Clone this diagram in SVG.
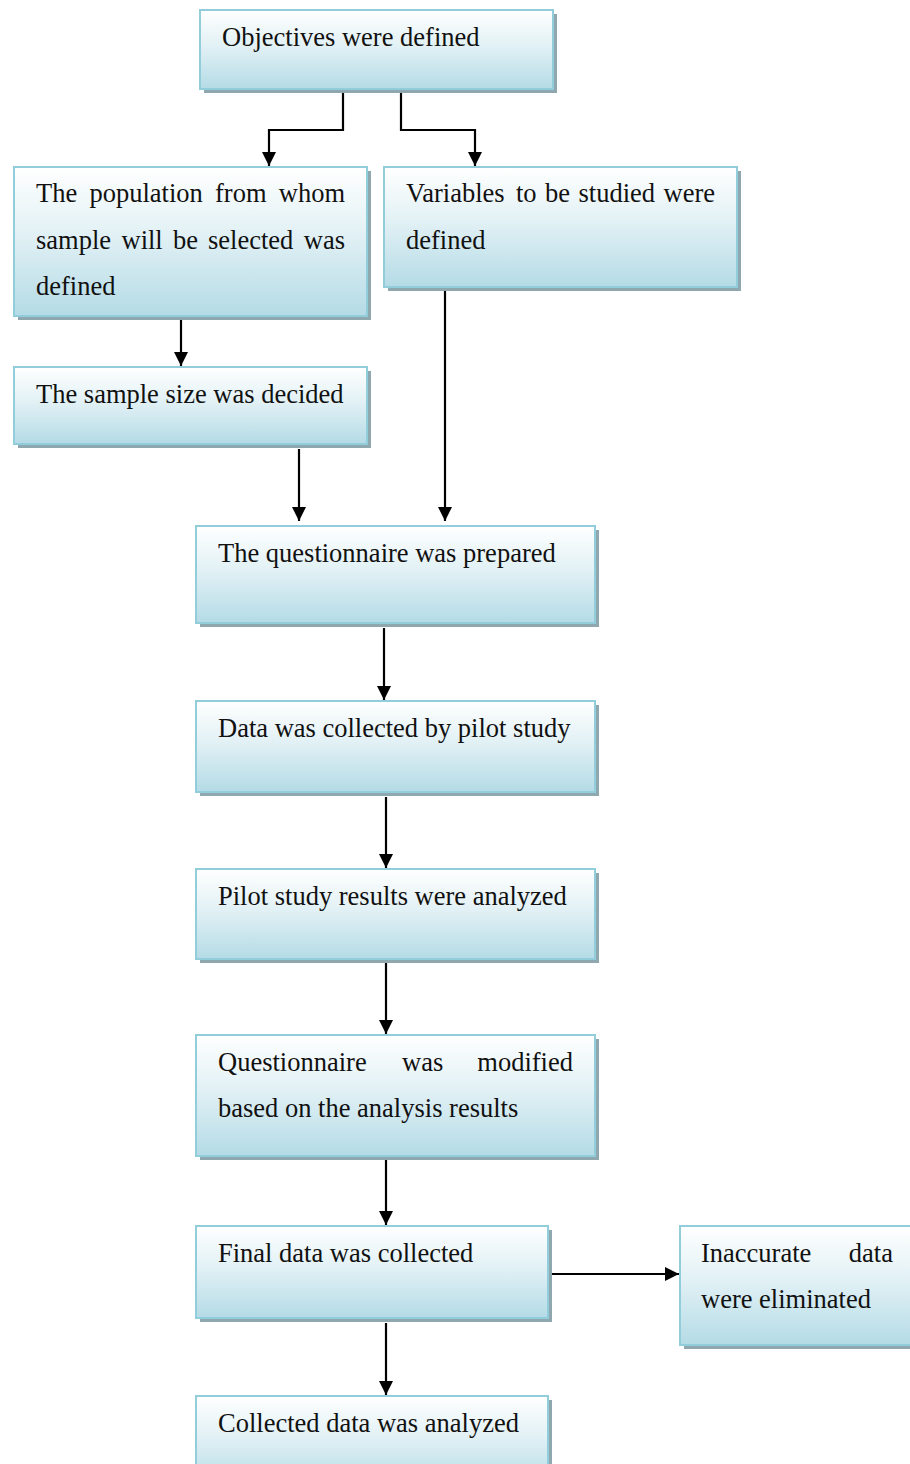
<svg xmlns="http://www.w3.org/2000/svg" width="910" height="1464" viewBox="0 0 910 1464">
<defs>
<linearGradient id="g" x1="0" y1="0" x2="0" y2="1">
<stop offset="0" stop-color="#ffffff"/>
<stop offset="0.45" stop-color="#e2f1f5"/>
<stop offset="1" stop-color="#b4dbe6"/>
</linearGradient>
<marker id="ah" markerUnits="userSpaceOnUse" markerWidth="16" markerHeight="14" refX="14" refY="7" orient="auto">
<path d="M0,0 L14,7 L0,14 Z" fill="#000"/>
</marker>
<style>
.sh{fill:#8fa8b0}
.bx{fill:url(#g);stroke:#92cddc;stroke-width:2}
text{font-family:"Liberation Serif","Times New Roman",serif;font-size:26.5px;fill:#111}
.e{text-anchor:end}
.c path{fill:none;stroke:#000;stroke-width:2.2;marker-end:url(#ah)}
</style>
</defs>
<rect width="910" height="1464" fill="#fff"/>
<g class="c" id="connectors">
<path d="M343,93 V130 H269 V166"/>
<path d="M401,93 V130 H475 V166"/>
<path d="M181,320 V366"/>
<path d="M299,449 V521"/>
<path d="M445,291 V521"/>
<path d="M384,628 V700"/>
<path d="M386,797 V868"/>
<path d="M386,963 V1034"/>
<path d="M386,1159 V1225"/>
<path d="M386,1323 V1395"/>
<path d="M550,1274 H679"/>
</g>
<g id="n1"><rect class="sh" x="204" y="14" width="353" height="79"/><rect class="bx" x="200" y="10" width="353" height="79"/><text x="222" y="46">Objectives were defined</text></g>
<g id="n2"><rect class="sh" x="18" y="171" width="353" height="149"/><rect class="bx" x="14" y="167" width="353" height="149"/>
<text x="36" y="202">The</text><text x="89.5" y="202">population</text><text x="215" y="202">from</text><text class="e" x="345" y="202">whom</text>
<text x="36" y="249">sample</text><text x="121.5" y="249">will</text><text x="173" y="249">be</text><text x="208" y="249">selected</text><text class="e" x="345" y="249">was</text>
<text x="36" y="295">defined</text></g>
<g id="n3"><rect class="sh" x="388" y="171" width="353" height="120"/><rect class="bx" x="384" y="167" width="353" height="120"/>
<text x="406" y="202">Variables</text><text x="516" y="202">to</text><text x="545" y="202">be</text><text x="578.5" y="202">studied</text><text class="e" x="715" y="202">were</text>
<text x="406" y="249">defined</text></g>
<g id="n4"><rect class="sh" x="18" y="371" width="353" height="77"/><rect class="bx" x="14" y="367" width="353" height="77"/><text x="36" y="403">The sample size was decided</text></g>
<g id="n5"><rect class="sh" x="200" y="530" width="399" height="97"/><rect class="bx" x="196" y="526" width="399" height="97"/><text x="218" y="562">The questionnaire was prepared</text></g>
<g id="n6"><rect class="sh" x="200" y="705" width="399" height="91"/><rect class="bx" x="196" y="701" width="399" height="91"/><text x="218" y="737">Data was collected by pilot study</text></g>
<g id="n7"><rect class="sh" x="200" y="873" width="399" height="90"/><rect class="bx" x="196" y="869" width="399" height="90"/><text x="218" y="905">Pilot study results were analyzed</text></g>
<g id="n8"><rect class="sh" x="200" y="1039" width="399" height="121"/><rect class="bx" x="196" y="1035" width="399" height="121"/>
<text x="218" y="1071">Questionnaire</text><text x="402" y="1071">was</text><text class="e" x="573" y="1071">modified</text>
<text x="218" y="1117">based on the analysis results</text></g>
<g id="n9"><rect class="sh" x="200" y="1230" width="352" height="92"/><rect class="bx" x="196" y="1226" width="352" height="92"/><text x="218" y="1262">Final data was collected</text></g>
<g id="n10"><rect class="sh" x="684" y="1230" width="240" height="119"/><rect class="bx" x="680" y="1226" width="240" height="119"/>
<text x="701" y="1262">Inaccurate</text><text class="e" x="893" y="1262">data</text>
<text x="701" y="1308">were eliminated</text></g>
<g id="n11"><rect class="sh" x="200" y="1400" width="352" height="90"/><rect class="bx" x="196" y="1396" width="352" height="90"/><text x="218" y="1432">Collected data was analyzed</text></g>
</svg>
